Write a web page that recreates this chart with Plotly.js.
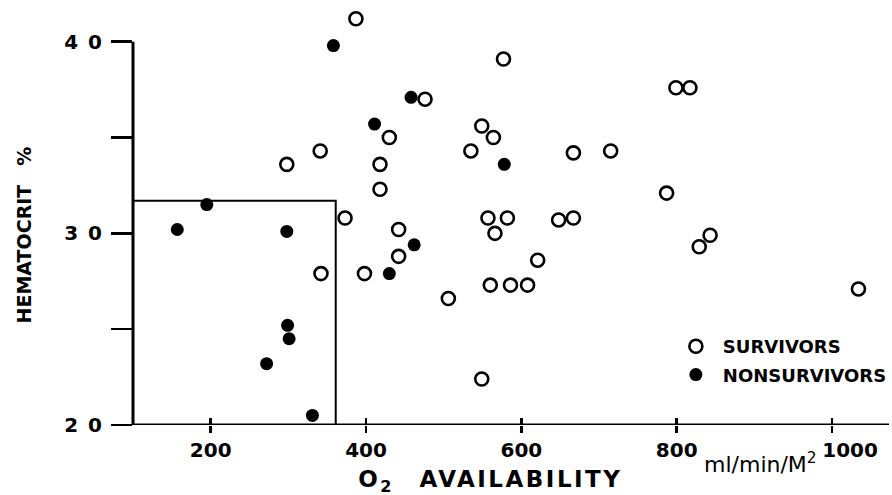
<!DOCTYPE html>
<html><head><meta charset="utf-8">
<script src="https://cdn.plot.ly/plotly-3.0.1.min.js"></script>
<style>html,body{margin:0;padding:0;background:#fff}</style>
</head><body><div id="chart" style="width:892px;height:495px"></div>
<script>
// ---- data (O2 availability ml/min/M2, hematocrit %) ----
const survivorsX = [387,577,799,817,476,549,430,564,341,535,667,715,298,418,418,787,373,557,582,648,667,442,566,843,829,442,621,342,398,506,560,586,608,1034,549];
const survivorsY = [41.2,39.1,37.6,37.6,37.0,35.6,35.0,35.0,34.3,34.3,34.2,34.3,33.6,33.6,32.3,32.1,30.8,30.8,30.8,30.7,30.8,30.2,30.0,29.9,29.3,28.8,28.6,27.9,27.9,26.6,27.3,27.3,27.3,27.1,22.4];
const nonsurvivorsX = [157,195,298,299,301,272,331,358,411,458,430,462,578];
const nonsurvivorsY = [30.2,31.5,30.1,25.2,24.5,23.2,20.5,39.8,35.7,37.1,27.9,29.4,33.6];
const xTickVals = [200,400,600,800];
const xTickText = ["200","400","600","800"];
const xLastTickVal = [1000];
const xLastTickText = ["1000"];
const xAllTickVals = [200,400,600,800,1000];
const yTickVals = [20,30,40];
const yTickText = ["2\u20020","3\u20020","4\u20020"];
const yMinorTickVals = [25,35];
const boxLimitX = 361;   // O2 availability threshold
const boxLimitY = 31.7;  // hematocrit threshold
const seriesNames = ["SURVIVORS","NONSURVIVORS"];

const W = 892, H = 495, L = 133, R = 0, T = 10, B = 70;
const pw = W - L - R, ph = H - T - B;
const px = v => (v - L) / pw;
const py = v => (H - B - v) / ph;
const FONT = "DejaVu Sans";
const tickFont = {family: FONT, size: 20, weight: 'bold', color: '#000'};
const blankAxis = {overlaying: 'x', matches: 'x', anchor: 'y', side: 'bottom', showgrid: false,
                   zeroline: false, showline: false, tickmode: 'array', tickcolor: '#000', tickwidth: 2.5};

const traces = [
  {x: survivorsX, y: survivorsY, type: 'scatter', mode: 'markers', name: seriesNames[0],
   legendgroup: 'a', cliponaxis: false,
   marker: {symbol: 'circle-open', size: 13, color: '#000', line: {width: 2.6, color: '#000'}}},
  {x: nonsurvivorsX, y: nonsurvivorsY, type: 'scatter', mode: 'markers', name: seriesNames[1],
   legendgroup: 'b', cliponaxis: false,
   marker: {symbol: 'circle', size: 13, color: '#000'}},
  {x: [], y: [], xaxis: 'x2', yaxis: 'y', type: 'scatter', mode: 'markers', showlegend: false, hoverinfo: 'skip'},
  {x: [], y: [], xaxis: 'x3', yaxis: 'y', type: 'scatter', mode: 'markers', showlegend: false, hoverinfo: 'skip'}
];

const layout = {
  width: W, height: H,
  margin: {l: L, r: R, t: T, b: B, pad: 0},
  paper_bgcolor: '#fff', plot_bgcolor: '#fff',
  font: {family: FONT, color: '#000', size: 18, weight: 'bold'},
  showlegend: true,
  legend: {x: px(671), y: py(328), xanchor: 'left', yanchor: 'top',
           bgcolor: 'rgba(0,0,0,0)', borderwidth: 0, itemwidth: 44,
           traceorder: 'grouped', tracegroupgap: 2,
           font: {family: FONT, size: 18, weight: 'bold', color: '#000'}},
  xaxis: {range: [100, 100 + pw / 0.7798], showgrid: false, zeroline: false, showline: false,
          tickmode: 'array', tickvals: xTickVals, ticktext: xTickText,
          ticks: 'outside', ticklen: 7, tickwidth: 2.5, tickcolor: '#000', tickfont: tickFont},
  xaxis2: Object.assign({}, blankAxis, {tickvals: xLastTickVal, ticktext: xLastTickText,
          ticks: 'outside', ticklen: 7, ticklabelshift: 18, tickfont: tickFont}),
  xaxis3: Object.assign({}, blankAxis, {tickvals: xAllTickVals, showticklabels: false,
          ticks: 'inside', ticklen: 7}),
  yaxis: {range: [20, 20 + ph / 19.165], showgrid: false, zeroline: false, showline: false,
          tickmode: 'array', tickvals: yTickVals, ticktext: yTickText,
          ticks: 'outside', ticklen: 21, tickwidth: 2.5, tickcolor: '#000', ticklabelstandoff: 5,
          minor: {tickmode: 'array', tickvals: yMinorTickVals, ticks: 'outside', ticklen: 21,
                  tickwidth: 2.5, tickcolor: '#000', showgrid: false},
          tickfont: tickFont},
  shapes: [
    {type: 'line', xref: 'paper', yref: 'y', x0: 0, x1: 1, y0: 20, y1: 20, line: {color: '#000', width: 3}},
    {type: 'line', xref: 'paper', yref: 'y', x0: 0, x1: 0, y0: 20, y1: 40, line: {color: '#000', width: 3}},
    {type: 'rect', xref: 'x', yref: 'y', x0: 100, x1: boxLimitX, y0: 20, y1: boxLimitY, line: {color: '#000', width: 2}}
  ],
  annotations: [
    {text: 'O<sub>2</sub>\u2003AVAILABILITY', xref: 'paper', yref: 'paper', x: px(492), y: py(481),
     xanchor: 'center', yanchor: 'middle', showarrow: false,
     font: {family: FONT, size: 23, weight: 'bold', color: '#000'}},
    {text: 'ml/min/M<sup>2</sup>', xref: 'paper', yref: 'paper', x: px(763), y: py(463),
     xanchor: 'center', yanchor: 'middle', showarrow: false,
     font: {family: FONT, size: 22, weight: 'normal', color: '#000'}},
    {text: 'HEMATOCRIT\u2003%', xref: 'paper', yref: 'paper', x: px(24), y: py(235), textangle: -90,
     xanchor: 'center', yanchor: 'middle', showarrow: false,
     font: {family: FONT, size: 19, weight: 'bold', color: '#000'}}
  ]
};

Plotly.newPlot('chart', traces, layout, {displayModeBar: false, staticPlot: true}).then(() => {
  const t = document.querySelector('.annotation[data-index="0"] text');
  if (t) t.style.letterSpacing = '2.5px';
});
</script>
</body></html>
